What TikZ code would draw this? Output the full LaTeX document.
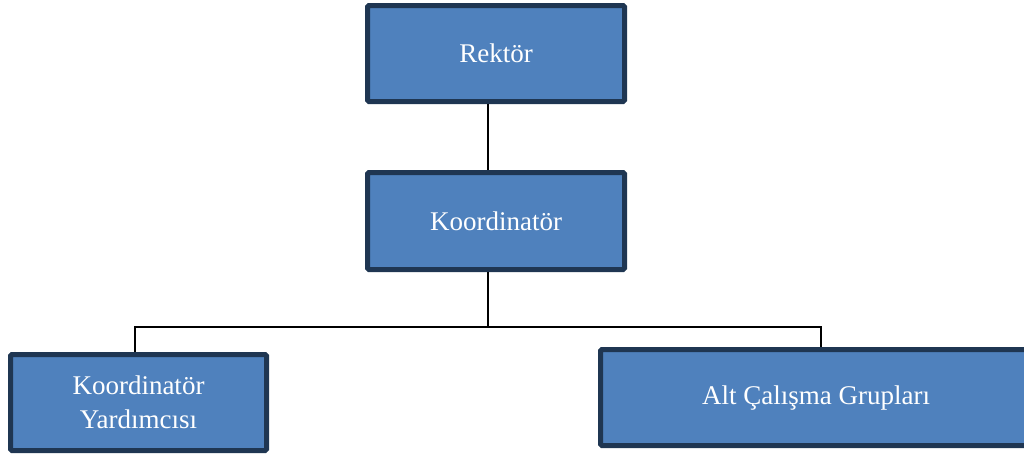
\documentclass[tikz,border=0pt]{standalone}
\usepackage{fontspec}
\setmainfont{Liberation Serif}
\definecolor{boxfill}{HTML}{4F81BD}
\definecolor{boxline}{HTML}{1F3652}

\begin{document}
\begin{tikzpicture}
[x=0.75pt,y=-0.75pt,%
  unit/.style={shape=rectangle,draw=boxline,fill=boxfill,line width=3.75pt,%
    rounded corners=1pt,text=white,align=center,inner sep=0pt,%
    font=\fontsize{20.25}{25.5}\selectfont},%
  link/.style={-,line width=1.9pt,black}]
\useasboundingbox (0,0) rectangle (1024,454);
\clip (0,0) rectangle (1024,454);
\node[unit,minimum width=192.75pt,minimum height=72pt] (rektor) at (496,53.5) {Rektör};
\node[unit,minimum width=192.75pt,minimum height=72.75pt] (koord) at (496,221) {Koordinatör};
\node[unit,minimum width=192pt,minimum height=72pt] (yard) at (138.5,402.5) {Koordinatör\\Yardımcısı};
\node[unit,minimum width=323.25pt,minimum height=72pt] (alt) at (816,397.5) {Alt Çalışma Grupları};
\coordinate (bus) at (488,327);
\coordinate (busl) at (135,327);
\coordinate (busr) at (821,327);
\draw[link] (rektor.south -| bus) -- (koord.north -| bus);
\draw[link] (koord.south -| bus) -- (bus);
\draw[link] (yard.north -| busl) -- (busl) -- (busr) -- (alt.north -| busr);
\end{tikzpicture}
\end{document}
